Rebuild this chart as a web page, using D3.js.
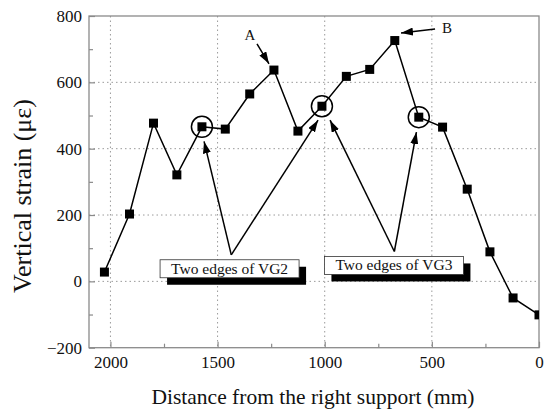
<!DOCTYPE html>
<html>
<head>
<meta charset="utf-8">
<script src="https://cdn.jsdelivr.net/npm/d3@7"></script>
<style>
  body { margin: 0; background: #fff; }
  svg { display: block; }
  svg text { font-family: "Liberation Serif", "DejaVu Serif", serif !important; fill: #111; }
</style>
</head>
<body>
<svg id="chart" width="546" height="415"></svg>
<script>
// Vertical strain measured along the beam, by distance from the right support
const distance = [2028, 1911, 1799, 1690, 1573, 1464, 1350, 1237, 1125, 1013, 899, 790, 673, 561, 450, 335, 229, 121, 0];
const strain   = [28, 203, 477, 321, 466, 459, 565, 637, 453, 528, 618, 639, 726, 495, 465, 278, 89, -50, -101];

const xTicks = [2000, 1500, 1000, 500, 0];
const xMinorTicks = [1750, 1250, 750, 250];
const yTicks = [-200, 0, 200, 400, 600, 800];
const yMinorTicks = [-100, 100, 300, 500, 700];
const xGrid = [2000, 1500, 1000, 500];
const yGrid = [0, 200, 400, 600];

// gauges at the edges of the vertical grooves
const circledIndex = [4, 9, 13];

// letter callouts (data coordinates)
const letterLabels = [
  { text: "A", x: 1349, y: 728 },
  { text: "B", x: 429, y: 749 }
];
const letterArrows = [
  { from: [1316, 716], to: [1260, 656] },
  { from: [485, 761], to: [644, 749] }
];

// boxed notes with arrows to the circled gauges (data coordinates)
const edgeNotes = [
  { text: "Two edges of VG2", x: 1444, y: 38, apex: [1436, 80], targets: [[1563, 422], [1031, 486]] },
  { text: "Two edges of VG3", x: 677, y: 48, apex: [675, 90], targets: [[975, 486], [572, 450]] }
];

const serif = '"Liberation Serif", "DejaVu Serif", serif';
const svg = d3.select("#chart").attr("font-family", serif);
const plot = { left: 89, right: 539, top: 16, bottom: 347.7 };

const x = d3.scaleLinear().domain([2100, 0]).range([plot.left, plot.right]);
const y = d3.scaleLinear().domain([-200, 800]).range([plot.bottom, plot.top]);

const frameColor = "#8a8a8a";

const defs = svg.append("defs");
defs.append("clipPath").attr("id", "plot-clip")
  .append("rect")
  .attr("x", plot.left).attr("y", plot.top)
  .attr("width", plot.right - plot.left).attr("height", plot.bottom - plot.top);

defs.append("marker")
  .attr("id", "head")
  .attr("markerUnits", "userSpaceOnUse")
  .attr("viewBox", "0 0 12 8")
  .attr("markerWidth", 12).attr("markerHeight", 8)
  .attr("refX", 12).attr("refY", 4)
  .attr("orient", "auto")
  .append("path").attr("d", "M0,0 L12,4 L0,8 Z").attr("fill", "#000");

// dotted grid
const grid = svg.append("g").attr("stroke", "#9a9a9a").attr("stroke-width", 1)
  .attr("stroke-dasharray", "1.5,3");
grid.selectAll(".gx").data(xGrid).join("line")
  .attr("x1", d => x(d)).attr("x2", d => x(d))
  .attr("y1", plot.top).attr("y2", plot.bottom);
grid.selectAll(".gy").data(yGrid).join("line")
  .attr("x1", plot.left).attr("x2", plot.right)
  .attr("y1", d => y(d)).attr("y2", d => y(d));

// axes with inward ticks
const styleAxis = g => {
  g.attr("font-family", serif).attr("font-size", 17);
  g.select(".domain").remove();
  g.selectAll(".tick line").attr("stroke", frameColor).attr("stroke-width", 1.2);
  g.selectAll(".tick text").attr("fill", "#111");
};

svg.append("g").attr("transform", `translate(0,${plot.bottom})`)
  .call(d3.axisBottom(x).tickValues(xTicks).tickSize(-6).tickPadding(8).tickFormat(d3.format("d")))
  .call(styleAxis);
svg.append("g").attr("transform", `translate(0,${plot.bottom})`)
  .call(d3.axisBottom(x).tickValues(xMinorTicks).tickSize(-4).tickFormat(""))
  .call(styleAxis);
svg.append("g").attr("transform", `translate(${plot.left},0)`)
  .call(d3.axisLeft(y).tickValues(yTicks).tickSize(-6).tickPadding(7).tickFormat(d3.format("d")))
  .call(styleAxis);
svg.append("g").attr("transform", `translate(${plot.left},0)`)
  .call(d3.axisLeft(y).tickValues(yMinorTicks).tickSize(-4).tickFormat(""))
  .call(styleAxis);

// frame
svg.append("rect")
  .attr("x", plot.left).attr("y", plot.top)
  .attr("width", plot.right - plot.left).attr("height", plot.bottom - plot.top)
  .attr("fill", "none").attr("stroke", frameColor).attr("stroke-width", 1.3);

// data line and square markers
const points = distance.map((d, i) => ({ d, s: strain[i] }));
const marks = svg.append("g").attr("clip-path", "url(#plot-clip)");
marks.append("path")
  .datum(points)
  .attr("fill", "none").attr("stroke", "#000").attr("stroke-width", 1.5)
  .attr("d", d3.line().x(p => x(p.d)).y(p => y(p.s)));
const sq = 9;
marks.selectAll("rect.pt").data(points).join("rect")
  .attr("class", "pt")
  .attr("x", p => x(p.d) - sq / 2).attr("y", p => y(p.s) - sq / 2)
  .attr("width", sq).attr("height", sq)
  .attr("fill", "#000");

// open circles round the groove-edge gauges
svg.selectAll("circle.edge").data(circledIndex).join("circle")
  .attr("class", "edge")
  .attr("cx", i => x(distance[i])).attr("cy", i => y(strain[i]))
  .attr("r", 10.5)
  .attr("fill", "none").attr("stroke", "#000").attr("stroke-width", 1.5);

// letter callouts
svg.selectAll("line.letter").data(letterArrows).join("line")
  .attr("class", "letter")
  .attr("x1", a => x(a.from[0])).attr("y1", a => y(a.from[1]))
  .attr("x2", a => x(a.to[0])).attr("y2", a => y(a.to[1]))
  .attr("stroke", "#000").attr("stroke-width", 1.5)
  .attr("marker-end", "url(#head)");
svg.selectAll("text.letter").data(letterLabels).join("text")
  .attr("class", "letter")
  .attr("x", l => x(l.x)).attr("y", l => y(l.y))
  .attr("text-anchor", "middle").attr("font-size", 15)
  .text(l => l.text);

// boxed notes with shadow and arrows
const noteW = 139, noteH = 18, shadow = 7;
edgeNotes.forEach(n => {
  const g = svg.append("g");
  n.targets.forEach(t => {
    g.append("line")
      .attr("x1", x(n.apex[0])).attr("y1", y(n.apex[1]))
      .attr("x2", x(t[0])).attr("y2", y(t[1]))
      .attr("stroke", "#000").attr("stroke-width", 1.5)
      .attr("marker-end", "url(#head)");
  });
  const cx = x(n.x), cy = y(n.y);
  g.append("rect")
    .attr("x", cx - noteW / 2 + shadow).attr("y", cy - noteH / 2 + shadow)
    .attr("width", noteW).attr("height", noteH).attr("fill", "#000");
  g.append("rect")
    .attr("x", cx - noteW / 2).attr("y", cy - noteH / 2)
    .attr("width", noteW).attr("height", noteH)
    .attr("fill", "#fff").attr("stroke", "#333").attr("stroke-width", 0.8);
  g.append("text")
    .attr("x", cx).attr("y", cy + 5)
    .attr("text-anchor", "middle").attr("font-size", 15.5)
    .text(n.text);
});

// axis titles
svg.append("text")
  .attr("x", 313).attr("y", 404)
  .attr("text-anchor", "middle").attr("font-size", 21.5)
  .text("Distance from the right support (mm)");
svg.append("text")
  .attr("transform", "translate(31,196) rotate(-90)")
  .attr("text-anchor", "middle").attr("font-size", 26)
  .text("Vertical strain (\u03bc\u03b5)");
</script>
</body>
</html>
